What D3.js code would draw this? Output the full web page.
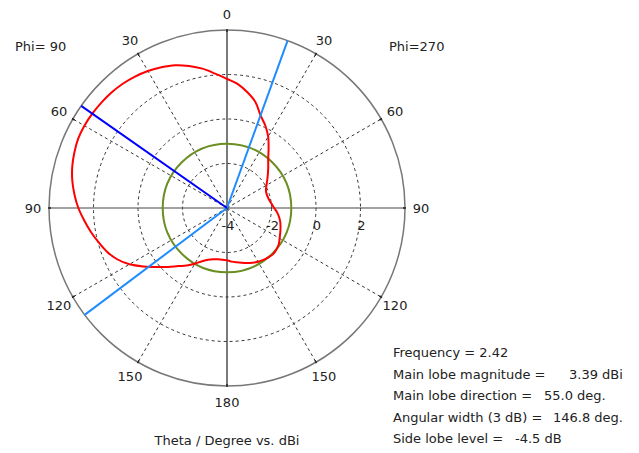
<!DOCTYPE html>
<html>
<head>
<meta charset="utf-8">
<script src="https://cdn.jsdelivr.net/npm/d3@7"></script>
<style>
html,body{margin:0;padding:0;background:#fff;}
svg{display:block;}
text{font-family:"DejaVu Sans",sans-serif;font-size:13px;fill:#222;}
</style>
</head>
<body>
<svg id="chart" width="639" height="453"></svg>
<script>
// Pattern data: theta in degrees (positive = Phi 90 side, negative = Phi 270 side), gain in dBi
const thetaDeg = [-180,-175,-170,-165,-160,-155,-150,-145,-140,-135,-130,-125,-120,-115,-110,-105,-100,-95,-90,-85,-80,-75,-70,-65,-60,-55,-50,-45,-40,-35,-30,-25,-20,-15,-10,-5,
  0,5,10,15,20,25,30,35,40,45,50,55,60,65,70,75,80,85,90,95,100,105,110,115,120,125,130,135,140,145,150,155,160,165,170,175];
const gainDbi = [-1.65,-1.58,-1.52,-1.45,-1.37,-1.29,-1.21,-1.15,-1.10,-1.07,-1.10,-1.16,-1.27,-1.36,-1.44,-1.52,-1.62,-1.74,-1.88,-1.98,-2.06,-2.10,-2.11,-2.07,-1.95,-1.79,-1.60,-1.38,-1.12,-0.74,-0.30,0.08,0.42,0.93,1.28,1.59,
  1.80,2.06,2.36,2.61,2.83,2.98,3.11,3.21,3.29,3.34,3.37,3.39,3.40,3.38,3.30,3.20,3.06,2.88,2.68,2.44,2.21,1.97,1.74,1.45,1.06,0.58,0.13,-0.25,-0.59,-0.84,-1.12,-1.36,-1.52,-1.61,-1.66,-1.66];

const radialDomain = [-4, 4];
const radialTicks = [-4, -2, 0, 2];
const gridCircles = [-2, 0, 2];
const gridSpokes = [30, 60, 120, 150, -30, -60, -120, -150];
const angleTickPos = [0, 30, 60, 90, 120, 150, 180, -30, -60, -90, -120, -150];
const angleTickLabels = ["0", "30", "60", "90", "120", "150", "180", "30", "60", "90", "120", "150"];

const mainLobeMag = 3.39;
const mainLobeDir = 55.0;
const beamEdges = [-19.9, 126.9];
const sideLobeLevel = -4.5;

const phiLabels = ["Phi= 90", "Phi=270"];
const titleText = "Theta / Degree vs. dBi";
const infoLabels = ["Frequency = 2.42", "Main lobe magnitude =", "Main lobe direction =", "Angular width (3 dB) =", "Side lobe level ="];
const infoValues = ["", "3.39 dBi", "55.0 deg.", "146.8 deg.", "-4.5 dB"];

// ---- drawing ----
const svg = d3.select("#chart");
svg.append("rect").attr("width", 639).attr("height", 453).attr("fill", "#fff");
const cx = 227, cy = 208, R = 178;
const g = svg.append("g").attr("transform", `translate(${cx},${cy})`);

const r = d3.scaleLinear().domain(radialDomain).range([0, R]);
// theta positive goes to the left (counter-clockwise); d3 radial angles are clockwise from top
const ang = d3.scaleLinear().domain([0, 360]).range([0, -2 * Math.PI]);
const px = (t, rad) => rad * Math.sin(ang(t));
const py = (t, rad) => -rad * Math.cos(ang(t));

// dashed grid circles
g.selectAll("circle.grid").data(gridCircles).join("circle")
  .attr("class", "grid").attr("r", d => r(d))
  .attr("fill", "none").attr("stroke", "#333").attr("stroke-width", 1)
  .attr("stroke-dasharray", "3,3");

// dashed spokes
g.selectAll("line.spoke").data(gridSpokes).join("line")
  .attr("x1", 0).attr("y1", 0)
  .attr("x2", d => px(d, R)).attr("y2", d => py(d, R))
  .attr("stroke", "#333").attr("stroke-width", 1).attr("stroke-dasharray", "3,3");

// solid axes
g.append("line").attr("x1", -R).attr("x2", R).attr("y1", 0).attr("y2", 0).attr("stroke", "#444").attr("stroke-width", 1.2);
g.append("line").attr("x1", 0).attr("x2", 0).attr("y1", -R).attr("y2", R).attr("stroke", "#222").attr("stroke-width", 1.2);

// outer circle
g.append("circle").attr("r", r(radialDomain[1])).attr("fill", "none").attr("stroke", "#777").attr("stroke-width", 1.5);

// small ticks on outer circle
g.selectAll("line.otick").data(angleTickPos).join("line")
  .attr("x1", d => px(d, R - 2)).attr("y1", d => py(d, R - 2))
  .attr("x2", d => px(d, R + 1)).attr("y2", d => py(d, R + 1))
  .attr("stroke", "#222").attr("stroke-width", 1.5);

// side lobe level circle
g.append("circle").attr("r", r(mainLobeMag + sideLobeLevel))
  .attr("fill", "none").attr("stroke", "#6b8e23").attr("stroke-width", 2);

// pattern
const pts = thetaDeg.map((t, i) => [t, gainDbi[i]]);
const line = d3.lineRadial()
  .angle(d => ang(d[0]))
  .radius(d => r(d[1]))
  .curve(d3.curveCatmullRomClosed.alpha(0.5));
g.append("path").attr("d", line(pts)).attr("fill", "none").attr("stroke", "#ff0000").attr("stroke-width", 2);

// beamwidth edges
g.selectAll("line.beam").data(beamEdges).join("line")
  .attr("x1", 0).attr("y1", 0)
  .attr("x2", d => px(d, R)).attr("y2", d => py(d, R))
  .attr("stroke", "#1e8cff").attr("stroke-width", 2);

// main lobe direction
g.append("line").attr("x1", 0).attr("y1", 0)
  .attr("x2", px(mainLobeDir, R)).attr("y2", py(mainLobeDir, R))
  .attr("stroke", "#0000ff").attr("stroke-width", 2);

// angle labels
g.selectAll("text.alab").data(angleTickPos).join("text")
  .attr("x", d => px(d, 194)).attr("y", d => py(d, 194))
  .attr("text-anchor", "middle").attr("dominant-baseline", "central")
  .text((d, i) => angleTickLabels[i]);

// radial labels
g.selectAll("text.rlab").data(radialTicks).join("text")
  .attr("x", d => r(d) + 1).attr("y", 22)
  .attr("text-anchor", "middle")
  .text(d => d3.format("d")(d).replace("−", "-"));

// phi labels
svg.append("text").attr("x", 15).attr("y", 51).text(phiLabels[0]);
svg.append("text").attr("x", 389).attr("y", 51).text(phiLabels[1]);

// title
svg.append("text").attr("x", 227).attr("y", 445).attr("text-anchor", "middle").text(titleText);

// info block
const infoY = [357, 378.5, 400, 421.5, 443];
const valueX = [0, 569, 544, 553, 515];
infoLabels.forEach((t, i) => {
  svg.append("text").attr("x", 393).attr("y", infoY[i]).text(t);
  if (infoValues[i]) svg.append("text").attr("x", valueX[i]).attr("y", infoY[i]).text(infoValues[i]);
});
</script>
</body>
</html>
